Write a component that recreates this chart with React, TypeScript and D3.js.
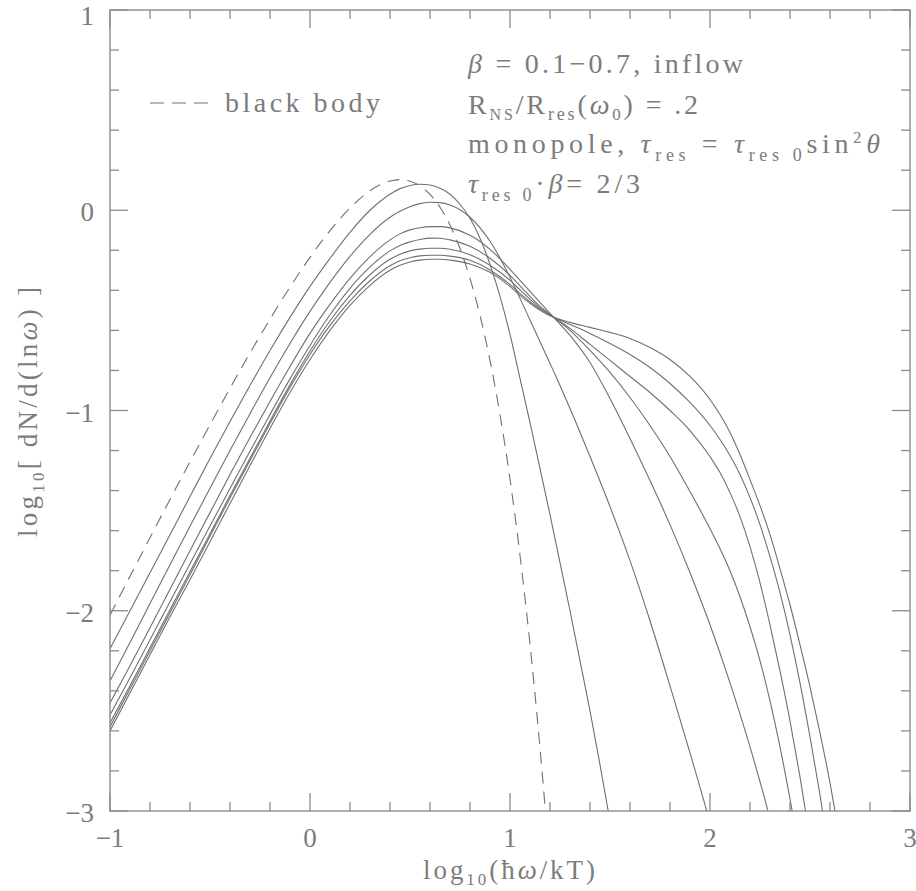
import React from 'react';
import * as d3 from 'd3';

const W = 916;
const H = 891;
const PLOT = { left: 110, right: 910, top: 10, bottom: 811 };

const xDomain: [number, number] = [-1, 3];
const yDomain: [number, number] = [-3, 1];
const xTickValues = [-1, 0, 1, 2, 3];
const xTickLabels = ['\u22121', '0', '1', '2', '3'];
const yTickValues = [-3, -2, -1, 0, 1];
const yTickLabels = ['\u22123', '\u22122', '\u22121', '0', '1'];
const minorCountX = 20; // every 0.2
const minorCountY = 20;

// dashed black body curve  [log10(hw/kT), log10 dN/dln w]
const blackBody: [number, number][] = [
  [-1, -2.022], [-0.9, -1.828], [-0.8, -1.635], [-0.7, -1.444], [-0.6, -1.256], [-0.5, -1.071],
  [-0.4, -0.889], [-0.3, -0.713], [-0.2, -0.544], [-0.1, -0.384], [0, -0.235], [0.1, -0.102],
  [0.2, 0.011], [0.3, 0.097], [0.35, 0.127], [0.4, 0.146], [0.45, 0.153], [0.5, 0.145],
  [0.55, 0.122], [0.6, 0.079], [0.65, 0.015], [0.7, -0.074], [0.75, -0.191], [0.8, -0.34],
  [0.85, -0.525], [0.9, -0.75], [0.95, -1.021], [1.0, -1.343], [1.05, -1.723], [1.1, -2.167],
  [1.15, -2.685], [1.2, -3.283],
];

const beta01: [number, number][] = [
  [-1, -2.19], [-0.9, -2.0], [-0.8, -1.81], [-0.7, -1.62], [-0.6, -1.43], [-0.5, -1.24],
  [-0.4, -1.055], [-0.3, -0.875], [-0.2, -0.7], [-0.1, -0.535], [0, -0.38], [0.1, -0.24],
  [0.2, -0.11], [0.3, 0.0], [0.4, 0.08], [0.45, 0.108], [0.5, 0.124], [0.55, 0.13], [0.6, 0.126],
  [0.65, 0.11], [0.7, 0.08], [0.75, 0.03], [0.8, -0.04], [0.85, -0.14], [0.9, -0.27], [0.95, -0.43],
  [1.0, -0.62], [1.05, -0.84], [1.1, -1.06], [1.15, -1.29], [1.2, -1.52], [1.25, -1.76], [1.3, -2.0],
  [1.35, -2.25], [1.4, -2.5], [1.45, -2.77], [1.5, -3.05], [1.55, -3.35],
];

const beta02: [number, number][] = [
  [-1, -2.35], [-0.9, -2.158], [-0.8, -1.964], [-0.7, -1.77], [-0.6, -1.578], [-0.5, -1.388],
  [-0.4, -1.2], [-0.3, -1.016], [-0.2, -0.836], [-0.1, -0.665], [0, -0.505], [0.1, -0.36],
  [0.2, -0.23], [0.3, -0.12], [0.4, -0.035], [0.45, -0.005], [0.5, 0.018], [0.55, 0.033], [0.6, 0.04],
  [0.65, 0.038], [0.7, 0.026], [0.8, -0.035], [0.9, -0.155], [1.0, -0.335], [1.05, -0.44],
  [1.1, -0.548], [1.2, -0.765], [1.25, -0.875], [1.3, -0.99], [1.4, -1.23], [1.5, -1.48],
  [1.6, -1.75], [1.7, -2.05], [1.8, -2.375], [1.9, -2.71], [2.0, -3.06], [2.05, -3.25],
];

const beta03: [number, number][] = [
  [-1, -2.46], [-0.9, -2.275], [-0.8, -2.085], [-0.7, -1.893], [-0.6, -1.7], [-0.5, -1.51],
  [-0.4, -1.32], [-0.3, -1.135], [-0.2, -0.955], [-0.1, -0.78], [0, -0.615], [0.1, -0.47],
  [0.2, -0.34], [0.3, -0.232], [0.4, -0.148], [0.45, -0.118], [0.5, -0.098], [0.55, -0.087],
  [0.6, -0.082], [0.65, -0.082], [0.7, -0.088], [0.8, -0.125], [0.9, -0.195], [1.0, -0.295],
  [1.05, -0.35], [1.1, -0.405], [1.15, -0.46], [1.2, -0.515], [1.3, -0.625], [1.4, -0.76],
  [1.5, -0.94], [1.6, -1.14], [1.7, -1.35], [1.8, -1.57], [1.9, -1.81], [2.0, -2.07],
  [2.1, -2.36], [2.2, -2.68], [2.3, -3.04], [2.35, -3.25],
];

const beta04: [number, number][] = [
  [-1, -2.52], [-0.9, -2.335], [-0.8, -2.145], [-0.7, -1.955], [-0.6, -1.765], [-0.5, -1.577],
  [-0.4, -1.39], [-0.3, -1.203], [-0.2, -1.02], [-0.1, -0.842], [0, -0.675], [0.1, -0.522],
  [0.2, -0.39], [0.3, -0.283], [0.4, -0.203], [0.45, -0.176], [0.5, -0.158], [0.55, -0.146],
  [0.6, -0.139], [0.65, -0.14], [0.7, -0.148], [0.8, -0.18], [0.9, -0.24], [1.0, -0.325],
  [1.05, -0.378], [1.1, -0.43], [1.15, -0.48], [1.2, -0.52], [1.3, -0.6], [1.4, -0.7],
  [1.5, -0.81], [1.6, -0.935], [1.7, -1.075], [1.8, -1.23], [1.9, -1.405], [2.0, -1.59],
  [2.05, -1.69], [2.1, -1.8], [2.15, -1.93], [2.2, -2.08], [2.25, -2.25], [2.3, -2.45],
  [2.35, -2.68], [2.4, -2.94], [2.45, -3.22],
];

const beta05: [number, number][] = [
  [-1, -2.56], [-0.9, -2.375], [-0.8, -2.185], [-0.7, -1.995], [-0.6, -1.805], [-0.5, -1.615],
  [-0.4, -1.425], [-0.3, -1.238], [-0.2, -1.052], [-0.1, -0.872], [0, -0.703], [0.1, -0.552],
  [0.2, -0.425], [0.3, -0.322], [0.4, -0.245], [0.45, -0.22], [0.5, -0.203], [0.55, -0.194],
  [0.6, -0.19], [0.65, -0.19], [0.7, -0.195], [0.8, -0.222], [0.9, -0.275], [1.0, -0.35],
  [1.05, -0.398], [1.1, -0.444], [1.15, -0.488], [1.2, -0.522], [1.3, -0.59], [1.4, -0.67],
  [1.5, -0.75], [1.6, -0.83], [1.7, -0.91], [1.8, -1.0], [1.9, -1.1], [2.0, -1.23], [2.05, -1.31],
  [2.1, -1.41], [2.15, -1.53], [2.2, -1.68], [2.25, -1.86], [2.3, -2.07], [2.35, -2.3],
  [2.4, -2.55], [2.45, -2.83], [2.5, -3.14],
];

const beta06: [number, number][] = [
  [-1, -2.58], [-0.9, -2.39], [-0.8, -2.2], [-0.7, -2.01], [-0.6, -1.82], [-0.5, -1.628],
  [-0.4, -1.437], [-0.3, -1.25], [-0.2, -1.065], [-0.1, -0.885], [0, -0.72], [0.1, -0.575],
  [0.2, -0.452], [0.3, -0.352], [0.4, -0.277], [0.45, -0.252], [0.5, -0.237], [0.55, -0.228],
  [0.6, -0.225], [0.65, -0.225], [0.7, -0.229], [0.8, -0.25], [0.9, -0.298], [1.0, -0.37],
  [1.05, -0.415], [1.1, -0.457], [1.15, -0.495], [1.2, -0.525], [1.3, -0.57], [1.4, -0.615],
  [1.5, -0.665], [1.6, -0.72], [1.7, -0.785], [1.8, -0.865], [1.9, -0.96], [2.0, -1.075],
  [2.05, -1.145], [2.1, -1.225], [2.15, -1.32], [2.2, -1.435], [2.25, -1.57], [2.3, -1.73],
  [2.35, -1.91], [2.4, -2.12], [2.45, -2.36], [2.5, -2.63], [2.55, -2.92], [2.6, -3.24],
];

const beta07: [number, number][] = [
  [-1, -2.6], [-0.9, -2.41], [-0.8, -2.22], [-0.7, -2.03], [-0.6, -1.845], [-0.5, -1.655],
  [-0.4, -1.465], [-0.3, -1.275], [-0.2, -1.09], [-0.1, -0.91], [0, -0.745], [0.1, -0.6],
  [0.2, -0.475], [0.3, -0.375], [0.4, -0.3], [0.45, -0.275], [0.5, -0.258], [0.55, -0.249],
  [0.6, -0.245], [0.65, -0.245], [0.7, -0.249], [0.8, -0.268], [0.9, -0.31], [1.0, -0.38],
  [1.05, -0.425], [1.1, -0.465], [1.15, -0.5], [1.2, -0.527], [1.3, -0.56], [1.4, -0.585],
  [1.5, -0.61], [1.6, -0.64], [1.7, -0.685], [1.8, -0.745], [1.9, -0.83], [2.0, -0.945],
  [2.05, -1.02], [2.1, -1.11], [2.15, -1.22], [2.2, -1.345], [2.25, -1.475], [2.3, -1.62],
  [2.35, -1.79], [2.4, -1.97], [2.45, -2.17], [2.5, -2.38], [2.55, -2.61], [2.6, -2.86],
  [2.65, -3.14],
];

const betaCurves = [beta01, beta02, beta03, beta04, beta05, beta06, beta07];

const TEXT = '#7c7c7c';
const FRAME = '#8a8a8a';
const LINE = '#707070';
const FONT = '"Liberation Serif", "DejaVu Serif", serif';

export default function App() {
  const x = d3.scaleLinear().domain(xDomain).range([PLOT.left, PLOT.right]);
  const y = d3.scaleLinear().domain(yDomain).range([PLOT.bottom, PLOT.top]);
  const line = d3
    .line<[number, number]>()
    .x((d) => x(d[0]))
    .y((d) => y(d[1]))
    .curve(d3.curveMonotoneX);

  const xMinor = d3.range(minorCountX + 1).map((i) => xDomain[0] + (i * (xDomain[1] - xDomain[0])) / minorCountX);
  const yMinor = d3.range(minorCountY + 1).map((i) => yDomain[0] + (i * (yDomain[1] - yDomain[0])) / minorCountY);
  const isMajor = (v: number) => Math.abs(v - Math.round(v)) < 1e-6;
  const minorLen = 9;
  const majorLen = 18;
  const it = { fontStyle: 'italic' as const };

  return (
    <svg
      width={W}
      height={H}
      style={{ position: 'absolute', left: 0, top: 0, background: '#fff' }}
      fontFamily={FONT}
    >
      <defs>
        <clipPath id="plotClip">
          <rect x={PLOT.left} y={PLOT.top} width={PLOT.right - PLOT.left} height={PLOT.bottom - PLOT.top} />
        </clipPath>
      </defs>
      <rect x={0} y={0} width={W} height={H} fill="#fff" />

      {/* curves */}
      <g clipPath="url(#plotClip)" fill="none">
        {betaCurves.map((c, i) => (
          <path key={i} d={line(c) || ''} stroke={LINE} strokeWidth={1.1} />
        ))}
        <path d={line(blackBody) || ''} stroke={LINE} strokeWidth={1.1} strokeDasharray="12,8" />
      </g>

      {/* frame */}
      <rect
        x={PLOT.left}
        y={PLOT.top}
        width={PLOT.right - PLOT.left}
        height={PLOT.bottom - PLOT.top}
        fill="none"
        stroke={FRAME}
        strokeWidth={1.4}
      />
      <g stroke={FRAME} strokeWidth={1.3}>
        {xMinor.map((v, i) => {
          const L = isMajor(v) ? majorLen : minorLen;
          const px = x(v);
          return (
            <g key={'x' + i}>
              <line x1={px} x2={px} y1={PLOT.bottom} y2={PLOT.bottom - L} />
              <line x1={px} x2={px} y1={PLOT.top} y2={PLOT.top + L} />
            </g>
          );
        })}
        {yMinor.map((v, i) => {
          const L = isMajor(v) ? majorLen : minorLen;
          const py = y(v);
          return (
            <g key={'y' + i}>
              <line x1={PLOT.left} x2={PLOT.left + L} y1={py} y2={py} />
              <line x1={PLOT.right} x2={PLOT.right - L} y1={py} y2={py} />
            </g>
          );
        })}
      </g>

      {/* tick labels */}
      <g fill={TEXT} fontSize={27}>
        {xTickValues.map((v, i) => (
          <text key={'xl' + i} x={x(v)} y={847} textAnchor="middle">
            {xTickLabels[i]}
          </text>
        ))}
        {yTickValues.map((v, i) => (
          <text key={'yl' + i} x={94} y={Math.max(y(v) + 11, 25)} textAnchor="end">
            {yTickLabels[i]}
          </text>
        ))}
      </g>

      {/* axis labels */}
      <g fill={TEXT}>
        <text x={423} y={879} fontSize={27} textLength={172} lengthAdjust="spacing">
          log<tspan fontSize={17} dy={6}>10</tspan>
          <tspan dy={-6}>(ħ</tspan>
          <tspan {...it}>ω</tspan>
          <tspan>/kT)</tspan>
        </text>
        <text
          transform="translate(37,537) rotate(-90)"
          x={0}
          y={0}
          fontSize={27}
          textLength={250}
          lengthAdjust="spacing"
        >
          log<tspan fontSize={17} dy={7}>10</tspan>
          <tspan dy={-7}>{'[ dN/d(ln'}</tspan>
          <tspan {...it}>ω</tspan>
          <tspan>{') ]'}</tspan>
        </text>
      </g>

      {/* legend */}
      <line x1={150} x2={208} y1={103} y2={103} stroke={LINE} strokeWidth={1.2} strokeDasharray="14,8" />
      <text x={225} y={112} fill={TEXT} fontSize={28} textLength={155} lengthAdjust="spacing">
        black body
      </text>

      {/* annotations */}
      <g fill={TEXT} fontSize={28}>
        <text x={468} y={73} textLength={275} lengthAdjust="spacing">
          <tspan {...it}>β</tspan>
          <tspan>{' = 0.1\u22120.7, inflow'}</tspan>
        </text>
        <text x={468} y={114} textLength={230} lengthAdjust="spacing">
          R<tspan fontSize={16} dy={6}>NS</tspan>
          <tspan dy={-6}>/R</tspan>
          <tspan fontSize={18} dy={6}>res</tspan>
          <tspan dy={-6}>(</tspan>
          <tspan {...it}>ω</tspan>
          <tspan fontSize={17} dy={6}>0</tspan>
          <tspan dy={-6}>{') = .2'}</tspan>
        </text>
        <text x={468} y={153} textLength={412} lengthAdjust="spacing">
          {'monopole, '}
          <tspan {...it}>τ</tspan>
          <tspan fontSize={18} dy={8}>res</tspan>
          <tspan dy={-8}>{' = '}</tspan>
          <tspan {...it}>τ</tspan>
          <tspan fontSize={18} dy={8}>{'res 0'}</tspan>
          <tspan dy={-8}>sin</tspan>
          <tspan fontSize={17} dy={-10}>2</tspan>
          <tspan dy={10} {...it}>θ</tspan>
        </text>
        <text x={468} y={193} textLength={172} lengthAdjust="spacing">
          <tspan {...it}>τ</tspan>
          <tspan fontSize={18} dy={8}>{'res 0'}</tspan>
          <tspan dy={-8}>{'·'}</tspan>
          <tspan {...it}>β</tspan>
          <tspan>{'= 2/3'}</tspan>
        </text>
      </g>
    </svg>
  );
}
